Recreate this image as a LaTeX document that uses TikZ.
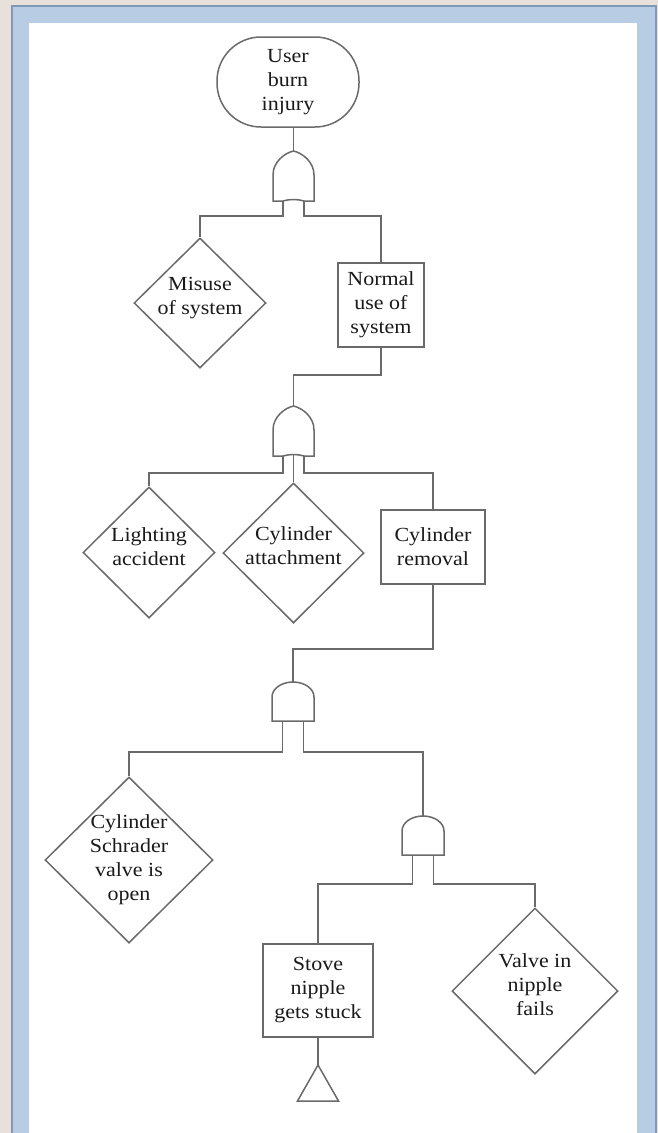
\documentclass[tikz,border=0pt]{standalone}
\usepackage{fontspec}
\setmainfont{Liberation Serif}[FakeStretch=1.1]
\usetikzlibrary{shapes.geometric}
\definecolor{bgbeige}{HTML}{E8E1DB}
\definecolor{frameblue}{HTML}{B8CCE4}
\definecolor{frameedge}{HTML}{7F9AB9}
\definecolor{linegray}{HTML}{6A6A6A}
\definecolor{textdark}{HTML}{1A1A1A}
\tikzset{
  conn/.style={draw=linegray, line width=1.5pt},
  txt/.style={font=\fontsize{20}{24}\selectfont, align=center, text=textdark, inner sep=0pt},
  boxnode/.style={txt, draw=linegray, line width=1.5pt, rectangle, fill=white},
  dianode/.style={draw=linegray, line width=1.5pt, diamond, inner sep=0pt, fill=white},
  orgate/.pic={
    \draw[conn, fill=white] (-20.5,50) -- (-20.5,24) .. controls (-20.5,11) and (-9,2) .. (0,0)
      .. controls (9,2) and (20.5,11) .. (20.5,24) -- (20.5,50) -- (10.5,50)
      .. controls (4,48) and (-4,48) .. (-10.5,50) -- cycle;
    \coordinate (-top) at (0,0);
    \coordinate (-l) at (-10.5,50);
    \coordinate (-r) at (10.5,50);
    \coordinate (-m) at (0,48.5);
  },
  andgate/.pic={
    \draw[conn, fill=white] (-21,39) -- (-21,15) .. controls (-21,6.7) and (-11.6,0) .. (0,0)
      .. controls (11.6,0) and (21,6.7) .. (21,15) -- (21,39) -- cycle;
    \coordinate (-top) at (0,0);
    \coordinate (-l) at (-10.5,39);
    \coordinate (-r) at (10.5,39);
  }
}
\begin{document}
\begin{tikzpicture}[x=1pt,y=-1pt]
\useasboundingbox (0,0) rectangle (658,1133);
% frame
\fill[bgbeige] (0,0) rectangle (658,1133);
\fill[frameblue] (11,5) rectangle (657,1133);
\draw[frameedge, line width=2pt] (12,1133) -- (12,6) -- (656,6) -- (656,1133);
\fill[white] (29,23) rectangle (637,1133);

% top event
\node[boxnode, rounded corners=44pt, minimum width=142pt, minimum height=90pt] (top) at (288,82) {User\\burn\\injury};

% gates
\pic (g1) at (293.5,151) {orgate};
\pic (g2) at (293.5,406) {orgate};
\pic (g3) at (293,682) {andgate};
\pic (g4) at (423,816) {andgate};

% level 1
\node[dianode, minimum width=132pt, minimum height=130pt] (misuse) at (200,303) {};
\node[txt] (misuset) at (200,298) {Misuse\\of system};
\node[boxnode, minimum width=86pt, minimum height=84pt] (normal) at (381,305) {Normal\\use of\\system};

% level 2
\node[dianode, minimum width=132pt, minimum height=131pt] (light) at (149,552.5) {};
\node[txt] (lightt) at (149,547) {Lighting\\accident};
\node[dianode, minimum width=141pt, minimum height=140pt] (att) at (293.5,553) {};
\node[txt] (attt) at (293.5,546) {Cylinder\\attachment};
\node[boxnode, minimum width=104pt, minimum height=74pt] (removal) at (433,547) {Cylinder\\removal};

% level 3
\node[dianode, minimum width=168pt, minimum height=166pt] (schrader) at (129,860) {};
\node[txt] (schradert) at (129,860) {Cylinder\\Schrader\\valve is\\open};

% level 4
\node[boxnode, minimum width=110pt, minimum height=93pt] (stove) at (318,990.5) {Stove\\nipple\\gets stuck};
\node[dianode, minimum width=166pt, minimum height=166pt] (valve) at (535,991) {};
\node[txt] (valvet) at (535,985) {Valve in\\nipple\\fails};
\coordinate (tri) at (318,1065);
\draw[conn] (tri) -- ++(20.5,36) -- ++(-41,0) -- cycle;

% connectors
\draw[conn] (top.south -| g1-top) -- (g1-top);
\draw[conn] (g1-l) -- ++(0,15) -| (misuse.north);
\draw[conn] (g1-r) -- ++(0,15) -| (normal.north);
\draw[conn] (normal.south) -- ++(0,27) -| (g2-top);
\draw[conn] (g2-l) -- ++(0,17) -| (light.north);
\draw[conn] (g2-m) -- (att.north);
\draw[conn] (g2-r) -- ++(0,17) -| (removal.north);
\draw[conn] (removal.south) -- ++(0,64) -| (g3-top);
\draw[conn] (g3-l) -- ++(0,31) -| (schrader.north);
\draw[conn] (g3-r) -- ++(0,31) -| (g4-top);
\draw[conn] (g4-l) -- ++(0,29) -| (stove.north);
\draw[conn] (g4-r) -- ++(0,29) -| (valve.north);
\draw[conn] (stove.south) -- (tri);
\end{tikzpicture}
\end{document}
